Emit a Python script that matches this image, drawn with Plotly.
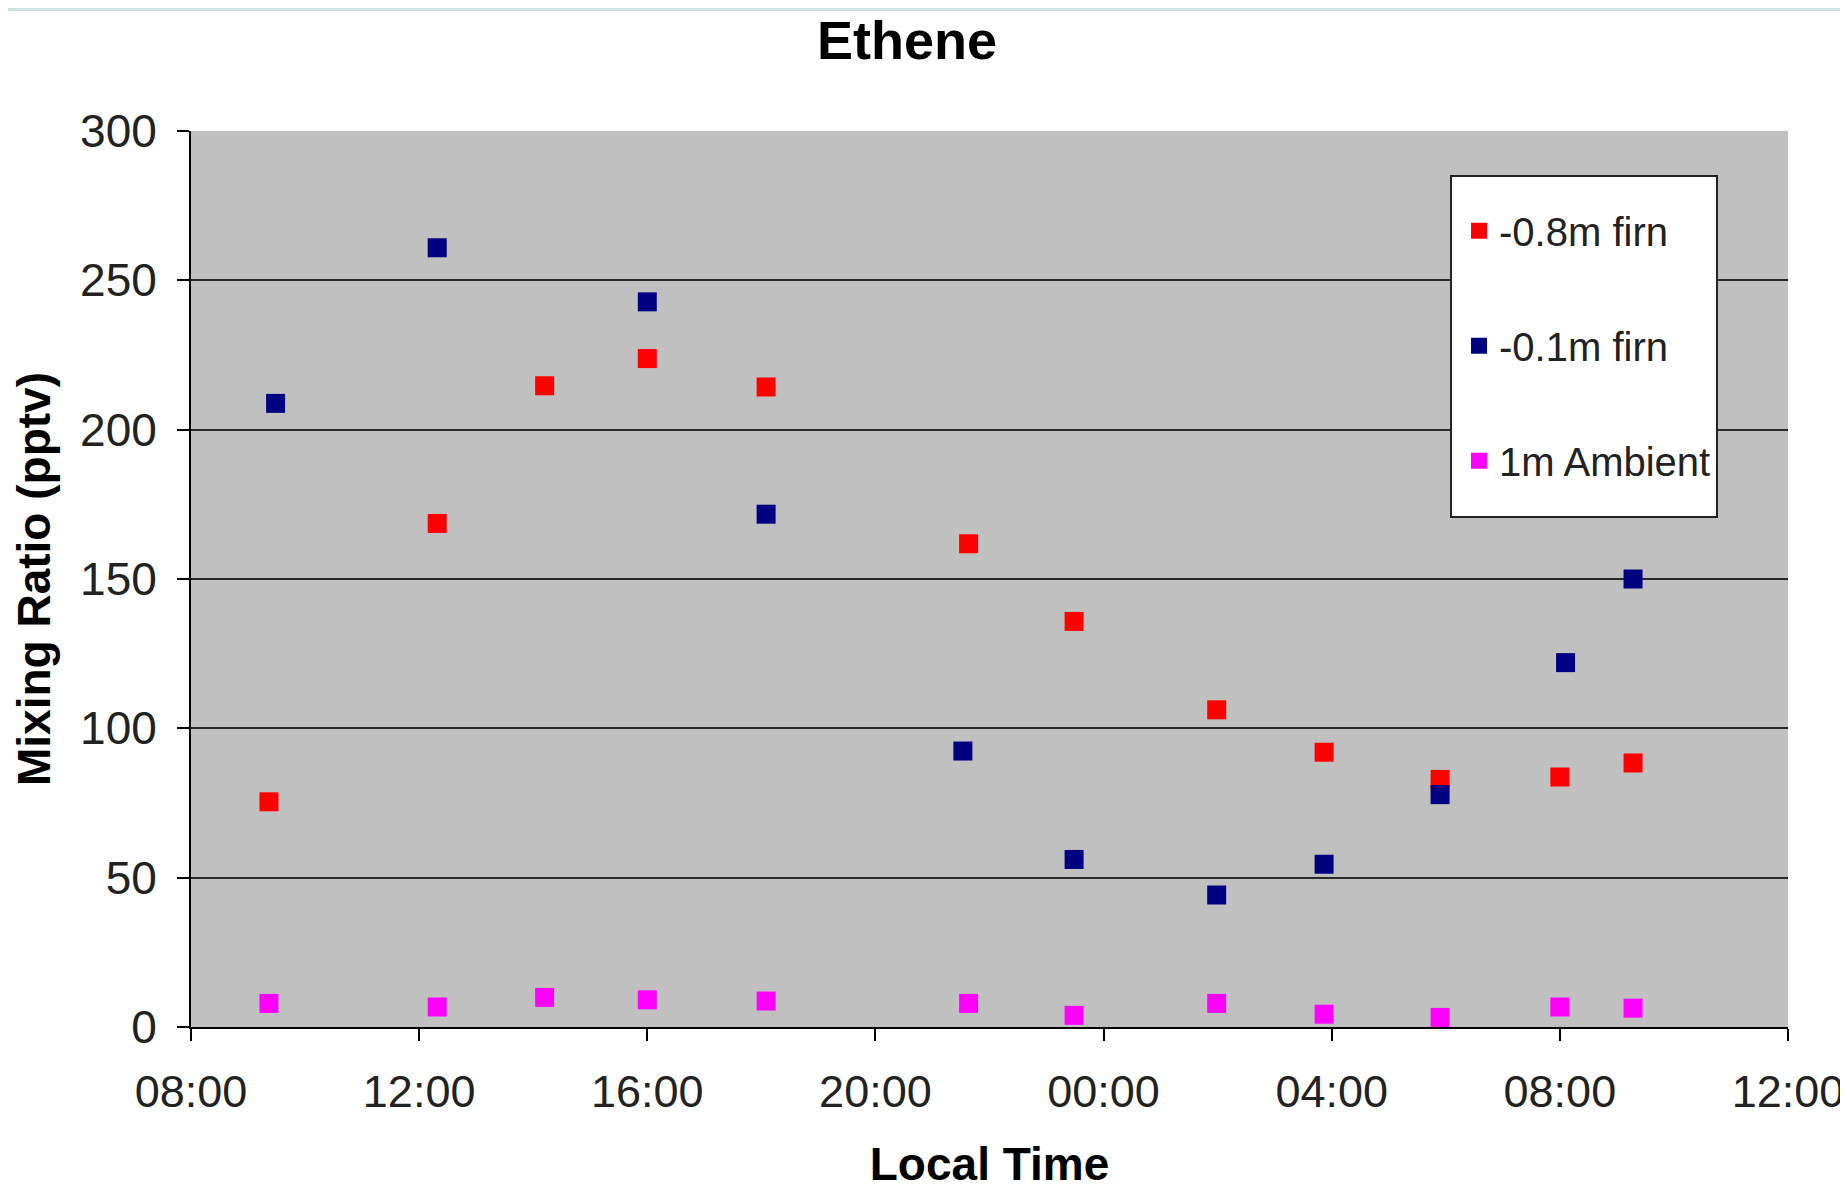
import plotly.graph_objects as go

# ---- data ----
red_times = ["2000-01-01 09:22", "2000-01-01 12:19", "2000-01-01 14:12", "2000-01-01 16:00",
             "2000-01-01 18:05", "2000-01-01 21:38", "2000-01-01 23:29", "2000-01-02 01:59",
             "2000-01-02 03:52", "2000-01-02 05:54", "2000-01-02 08:00", "2000-01-02 09:17"]
red_values = [75.4, 168.6, 214.7, 223.8, 214.3, 161.8, 135.8, 106.2, 92.0, 82.9, 83.7, 88.4]

blue_times = ["2000-01-01 09:29", "2000-01-01 12:19", "2000-01-01 16:00", "2000-01-01 18:05",
              "2000-01-01 21:32", "2000-01-01 23:29", "2000-01-02 01:59", "2000-01-02 03:52",
              "2000-01-02 05:54", "2000-01-02 08:06", "2000-01-02 09:17"]
blue_values = [208.8, 260.9, 242.8, 171.7, 92.4, 56.1, 44.2, 54.5, 77.8, 122.0, 150.0]

mag_times = red_times
mag_values = [7.9, 6.7, 9.9, 9.1, 8.7, 7.9, 3.9, 7.9, 4.3, 3.2, 6.7, 6.3]

series_names = ["-0.8m firn", "-0.1m firn", "1m Ambient"]
series_colors = ["#FF0000", "#000080", "#FF00FF"]

title_text = "Ethene"
x_title = "Local Time"
y_title = "Mixing Ratio (pptv)"

FONT = "Liberation Sans, Arial, sans-serif"

# plot area in figure pixels (page body adds an 8px offset)
PL, PR, PT, PB = 183, 1780, 123, 1019
PW, PH = PR - PL, PB - PT

fig = go.Figure()
for name, xs, ys, col in zip(series_names,
                             [red_times, blue_times, mag_times],
                             [red_values, blue_values, mag_values],
                             series_colors):
    fig.add_trace(go.Scatter(
        x=xs, y=ys, mode="markers", name=name, legendgroup=name,
        marker=dict(symbol="square", size=19, color=col, line=dict(width=0)),
    ))

fig.update_layout(
    width=1848, height=1189,
    margin=dict(l=PL, r=1848 - PR, t=PT, b=1189 - PB, autoexpand=False),
    paper_bgcolor="white",
    plot_bgcolor="#C0C0C0",
    font=dict(family=FONT, color="#000000"),
    title=dict(text="<b>" + title_text + "</b>", font=dict(size=54, family=FONT, color="#000000"),
               x=0.4483, xref="paper", xanchor="center",
               y=1 - 32 / 1189, yref="container", yanchor="middle"),
    showlegend=True,
    legend=dict(
        x=0.794, y=0.925, xanchor="left", yanchor="top",
        bgcolor="rgba(0,0,0,0)", borderwidth=0,
        font=dict(size=40, family=FONT, color="#222222"),
        tracegroupgap=60, itemsizing="trace",
    ),
)

fig.update_xaxes(
    type="date", automargin=False,
    range=["2000-01-01 08:00", "2000-01-02 12:00"],
    tick0="2000-01-01 08:00", dtick=4 * 3600 * 1000,
    tickformat="%H:%M",
    showgrid=False, zeroline=False,
    showline=True, linecolor="#000000", linewidth=2,
    ticks="outside", ticklen=12, tickwidth=2, tickcolor="#000000",
    tickfont=dict(size=45, family=FONT, color="#222222"),
    ticklabelstandoff=12,
    title=dict(text="<b>" + x_title + "</b>", font=dict(size=46, family=FONT, color="#000000"),
               standoff=32),
)

fig.update_yaxes(
    automargin=False,
    range=[0, 300], dtick=50, tick0=0,
    showgrid=True, gridcolor="#2A2A2A", gridwidth=2,
    zeroline=False,
    showline=True, linecolor="#000000", linewidth=2,
    ticks="outside", ticklen=12, tickwidth=2, tickcolor="#000000",
    tickfont=dict(size=46, family=FONT, color="#222222"),
    ticklabelstandoff=11,
    title=dict(text="<b>" + y_title + "</b>", font=dict(size=46, family=FONT, color="#000000"),
               standoff=16),
)

# white legend box drawn behind the legend entries
fig.add_shape(type="rect", xref="paper", yref="paper",
              x0=(1451 - 191) / 1597, x1=(1717 - 191) / 1597,
              y0=(1027 - 517) / 896, y1=(1027 - 176) / 896,
              fillcolor="white", line=dict(color="#222222", width=2), layer="above")

# thin light border at the very top of the image
fig.add_shape(type="rect", xref="paper", yref="paper",
              x0=-0.2, x1=1.1, y0=(PB - 3) / PH, y1=(PB + 1) / PH,
              fillcolor="#CFE0E3", line=dict(width=0), layer="above")

fig.write_html("out.html")
